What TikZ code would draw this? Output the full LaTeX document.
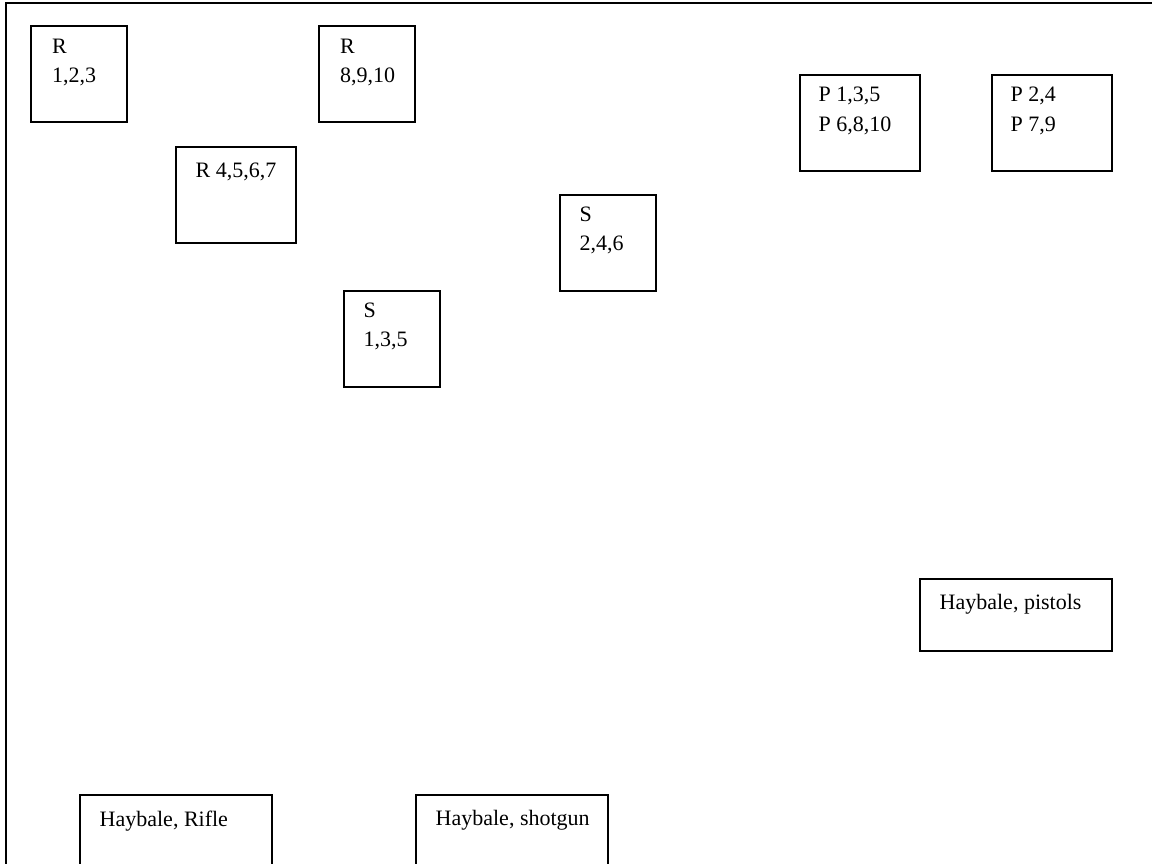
\documentclass[tikz,border=0pt]{standalone}
\usepackage{fontspec}
\setmainfont{Liberation Serif}
\usetikzlibrary{positioning}

\tikzset{
stand/.style={draw, line width=2pt, anchor=north west, inner sep=0pt},
tag/.style={anchor=north west, inner sep=0pt, align=left}
}

\begin{document}
\begin{tikzpicture}[x=1pt, y=-1pt, font=\fontsize{22}{29.5}\selectfont]

\clip (0,0) rectangle (1152,863);
\useasboundingbox (0,0) rectangle (1152,863);

%%%%%%%%%%%%%%%%%%%%%%%%%%%%%%%%%%%%%%%%%%%%%%%%%%%%%%%%%%
% RANGE EDGE
%%%%%%%%%%%%%%%%%%%%%%%%%%%%%%%%%%%%%%%%%%%%%%%%%%%%%%%%%%

\coordinate (edgelow) at (5.5,870);
\coordinate (edgeright) at (1160,2.5);
\draw[line width=2pt] (edgelow) |- (edgeright);

%%%%%%%%%%%%%%%%%%%%%%%%%%%%%%%%%%%%%%%%%%%%%%%%%%%%%%%%%%
% RIFLE STANDS
%%%%%%%%%%%%%%%%%%%%%%%%%%%%%%%%%%%%%%%%%%%%%%%%%%%%%%%%%%

\node[
stand,
minimum width=96pt,
minimum height=96pt
](rone) at (30,25) {};
\node[tag](ronetext) at ([xshift=22pt,yshift=-13.8pt]rone.north west) {R\\1,2,3};

\node[
stand,
minimum width=96pt,
minimum height=96pt
](rthree) at (318,25) {};
\node[tag](rthreetext) at ([xshift=22pt,yshift=-13.8pt]rthree.north west) {R\\8,9,10};

\node[
stand,
minimum width=120pt,
minimum height=96pt
](rtwo) at (174.5,145.5) {};
\node[tag](rtwotext) at ([xshift=21pt,yshift=-16.8pt]rtwo.north west) {R 4,5,6,7};

%%%%%%%%%%%%%%%%%%%%%%%%%%%%%%%%%%%%%%%%%%%%%%%%%%%%%%%%%%
% SHOTGUN STANDS
%%%%%%%%%%%%%%%%%%%%%%%%%%%%%%%%%%%%%%%%%%%%%%%%%%%%%%%%%%

\node[
stand,
minimum width=96pt,
minimum height=96pt
](stwo) at (558.5,193.5) {};
\node[tag](stwotext) at ([xshift=21pt,yshift=-12.8pt]stwo.north west) {S\\2,4,6};

\node[
stand,
minimum width=96pt,
minimum height=96pt
](sone) at (342.5,289.5) {};
\node[tag](sonetext) at ([xshift=21pt,yshift=-12.8pt]sone.north west) {S\\1,3,5};

%%%%%%%%%%%%%%%%%%%%%%%%%%%%%%%%%%%%%%%%%%%%%%%%%%%%%%%%%%
% PISTOL STANDS
%%%%%%%%%%%%%%%%%%%%%%%%%%%%%%%%%%%%%%%%%%%%%%%%%%%%%%%%%%

\node[
stand,
minimum width=120pt,
minimum height=96pt
](pone) at (798.5,73.5) {};
\node[tag](ponetext) at ([xshift=20pt,yshift=-13.6pt]pone.north west) {P 1,3,5\\P 6,8,10};

\node[
stand,
minimum width=120pt,
minimum height=96pt
](ptwo) at (990.5,73.5) {};
\node[tag](ptwotext) at ([xshift=20pt,yshift=-13.6pt]ptwo.north west) {P 2,4\\P 7,9};

%%%%%%%%%%%%%%%%%%%%%%%%%%%%%%%%%%%%%%%%%%%%%%%%%%%%%%%%%%
% HAYBALES
%%%%%%%%%%%%%%%%%%%%%%%%%%%%%%%%%%%%%%%%%%%%%%%%%%%%%%%%%%

\node[
stand,
minimum width=192pt,
minimum height=72pt
](hpistols) at (918.5,577.5) {};
\node[tag](hpistolstext) at ([xshift=21pt,yshift=-17pt]hpistols.north west) {Haybale, pistols};

\node[
stand,
minimum width=192pt,
minimum height=90pt
](hrifle) at (78.5,793.5) {};
\node[tag](hrifletext) at ([xshift=21pt,yshift=-17pt]hrifle.north west) {Haybale, Rifle};

\node[
stand,
minimum width=192pt,
minimum height=90pt
](hshotgun) at (414.5,793.5) {};
\node[tag](hshotguntext) at ([xshift=21pt,yshift=-17pt]hshotgun.north west) {Haybale, shotgun};

\end{tikzpicture}
\end{document}
